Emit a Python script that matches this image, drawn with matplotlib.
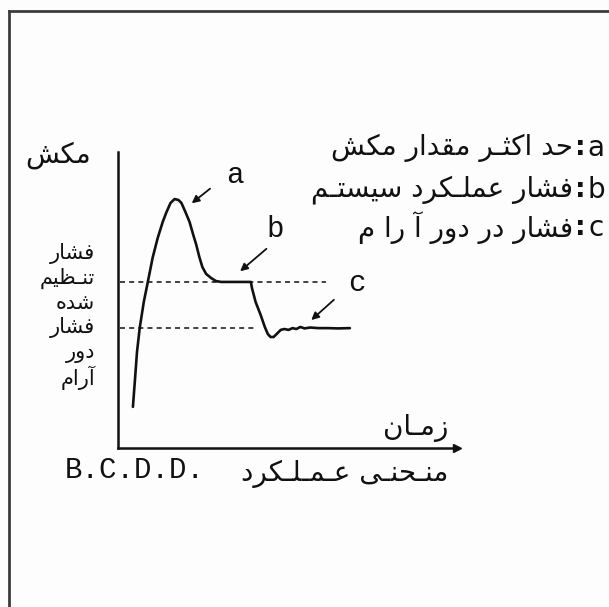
import matplotlib
matplotlib.use("Agg")
from matplotlib import pyplot as plt
from matplotlib.lines import Line2D

# منحنی عملکرد B.C.D.D. - مقادیر خوانده شده از تصویر (زمان و مکش، مقیاس 0 تا 100)
time = [4.4, 5.0, 5.6, 6.4, 7.6, 8.8, 10.2, 11.7, 13.2, 14.3, 15.5, 16.7, 17.8, 18.7,
        19.9, 21.1, 22.2, 23.1, 24.0, 24.9, 26.0, 27.5, 28.9, 30.4, 39.2, 39.5, 40.6,
        42.1, 43.3, 44.2, 45.0, 45.9, 46.8, 48.0, 49.1, 50.3, 51.5, 52.6, 53.8, 55.0,
        56.7, 59.1, 62.0, 64.9, 68.4]
suction = [13.9, 23.0, 32.4, 40.5, 49.3, 56.1, 64.2, 70.9, 76.4, 79.7, 82.8, 84.1, 83.8, 82.8,
           79.7, 76.4, 72.0, 68.6, 64.5, 61.1, 58.8, 57.4, 56.4, 56.1, 56.1, 54.1, 49.3,
           44.9, 40.9, 38.5, 37.5, 37.5, 38.5, 39.9, 40.2, 39.9, 40.5, 40.2, 40.9, 40.4,
           40.7, 40.5, 40.5, 40.4, 40.5]

set_pressure = 56.1
idle_pressure = 40.5
set_line_end = 61.4
idle_line_end = 41.0

# برچسب ها
y_title = "مکش"
x_title = "زمـان"
side_words = ["فشار", "تنـظیم", "شده", "فشار", "دور", "آرام"]
legend_keys = ["a", "b", "c"]
legend_texts = ["حد اکثـر مقدار مکش", "فشار عملـکرد سیستـم", "فشار در دور آ را م"]
caption_fa = "منـحنـی عـمـلـکرد"
caption_en = "B.C.D.D."

# شکل های حروف فارسی (تنها، پایانی، آغازی، میانی)
FORMS = {
    'ا': ('\uFE8D', '\uFE8E', None, None),
    'آ': ('\uFE81', '\uFE82', None, None),
    'د': ('\uFEA9', '\uFEAA', None, None),
    'ر': ('\uFEAD', '\uFEAE', None, None),
    'ز': ('\uFEAF', '\uFEB0', None, None),
    'و': ('\uFEED', '\uFEEE', None, None),
    'ت': ('\uFE95', '\uFE96', '\uFE97', '\uFE98'),
    'ث': ('\uFE99', '\uFE9A', '\uFE9B', '\uFE9C'),
    'ح': ('\uFEA1', '\uFEA2', '\uFEA3', '\uFEA4'),
    'س': ('\uFEB1', '\uFEB2', '\uFEB3', '\uFEB4'),
    'ش': ('\uFEB5', '\uFEB6', '\uFEB7', '\uFEB8'),
    'ظ': ('\uFEC5', '\uFEC6', '\uFEC7', '\uFEC8'),
    'ع': ('\uFEC9', '\uFECA', '\uFECB', '\uFECC'),
    'ف': ('\uFED1', '\uFED2', '\uFED3', '\uFED4'),
    'ق': ('\uFED5', '\uFED6', '\uFED7', '\uFED8'),
    'ل': ('\uFEDD', '\uFEDE', '\uFEDF', '\uFEE0'),
    'م': ('\uFEE1', '\uFEE2', '\uFEE3', '\uFEE4'),
    'ن': ('\uFEE5', '\uFEE6', '\uFEE7', '\uFEE8'),
    'ه': ('\uFEE9', '\uFEEA', '\uFEEB', '\uFEEC'),
    'ک': ('\uFB8E', '\uFB8F', '\uFB90', '\uFB91'),
    'ی': ('\uFBFC', '\uFBFD', '\uFBFE', '\uFBFF'),
    'ـ': ('\u0640', '\u0640', '\u0640', '\u0640'),
}


def fa(text):
    # اتصال حروف و راست به چپ کردن برای matplotlib
    out = []
    for i, ch in enumerate(text):
        if ch not in FORMS:
            out.append(ch)
            continue
        iso, fin, ini, med = FORMS[ch]
        prev = text[i - 1] if i > 0 else None
        nxt = text[i + 1] if i < len(text) - 1 else None
        jp = prev in FORMS and FORMS[prev][2] is not None
        jn = ini is not None and nxt in FORMS
        if jp and jn:
            out.append(med)
        elif jp:
            out.append(fin)
        elif jn:
            out.append(ini)
        else:
            out.append(iso)
    return ''.join(reversed(out))


W, H = 609, 607
fig = plt.figure(figsize=(W / 100, H / 100), dpi=100, facecolor='#fdfdfd')


def px(x, y):
    return x / W, 1 - y / H


# قاب اسکن
fig.add_artist(Line2D([8.7 / W, 8.7 / W], [0, 1 - 10.5 / H], color='#3c3c3c', lw=2))
fig.add_artist(Line2D([8.7 / W, 1], [1 - 10.5 / H, 1 - 10.5 / H], color='#3c3c3c', lw=2))

x0, y0 = px(118, 448)
x1, y1 = px(457, 152)
ax = fig.add_axes([x0, y0, x1 - x0, y1 - y0])
ax.set_facecolor('none')
ax.set_xlim(0, 100)
ax.set_ylim(0, 100)
for s in ['top', 'right']:
    ax.spines[s].set_visible(False)
for s in ['left', 'bottom']:
    ax.spines[s].set_linewidth(1.8)
    ax.spines[s].set_color('#111111')
ax.set_xticks([])
ax.set_yticks([])
ax.plot(1, 0, '>', color='#111111', markersize=6, transform=ax.transAxes, clip_on=False)

ax.plot([0.6, set_line_end], [set_pressure, set_pressure], color='#222222', lw=1.2,
        linestyle=(0, (3, 2.5)))
ax.plot([0.6, idle_line_end], [idle_pressure, idle_pressure], color='#222222', lw=1.2,
        linestyle=(0, (3, 2.5)))
ax.plot(time, suction, color='#111111', lw=1.9, solid_capstyle='round', solid_joinstyle='round')

# فلش ها و حروف a b c
arrows = [((27.8, 88.2), (21.1, 82.1), (34.5, 92.2)),
          ((44.4, 67.9), (35.4, 59.1), (46.5, 74.0)),
          ((64.3, 50.7), (56.4, 42.6), (70.5, 55.7))]
for key, (tail, head, lab) in zip(legend_keys, arrows):
    ax.annotate('', xy=head, xytext=tail,
                arrowprops=dict(arrowstyle='-|>', color='#111111', lw=1.3, mutation_scale=11))
    ax.text(lab[0], lab[1], key, family='Liberation Mono', fontsize=21,
            ha='center', va='center', color='#111111')

ar = dict(family='DejaVu Sans', color='#111111')

fig.text(*px(58, 155), fa(y_title), fontsize=20, ha='center', va='center', **ar)

side_y = [253, 278, 303, 328, 353, 378]
for word, yy in zip(side_words, side_y):
    fig.text(*px(95, yy), fa(word), fontsize=15, ha='right', va='center', **ar)

rows_y = [148, 190, 228]
for key, txt, yy in zip(legend_keys, legend_texts, rows_y):
    fig.text(*px(573, yy), fa(txt), fontsize=20, ha='right', va='center', **ar)
    fig.text(*px(580, yy), ':', fontsize=19, ha='center', va='center',
             family='DejaVu Sans', weight='bold', color='#111111')
    fig.text(*px(596, yy), key, fontsize=20, ha='center', va='center',
             family='DejaVu Sans', color='#111111')

fig.text(*px(448, 428), fa(x_title), fontsize=20, ha='right', va='center', **ar)
fig.text(*px(448, 474), fa(caption_fa), fontsize=20, ha='right', va='center', **ar)
fig.text(*px(65, 470), caption_en, fontsize=21, ha='left', va='center',
         family='Liberation Mono', color='#111111')

fig.savefig('out.png', dpi=100, facecolor=fig.get_facecolor())
plt.close(fig)
